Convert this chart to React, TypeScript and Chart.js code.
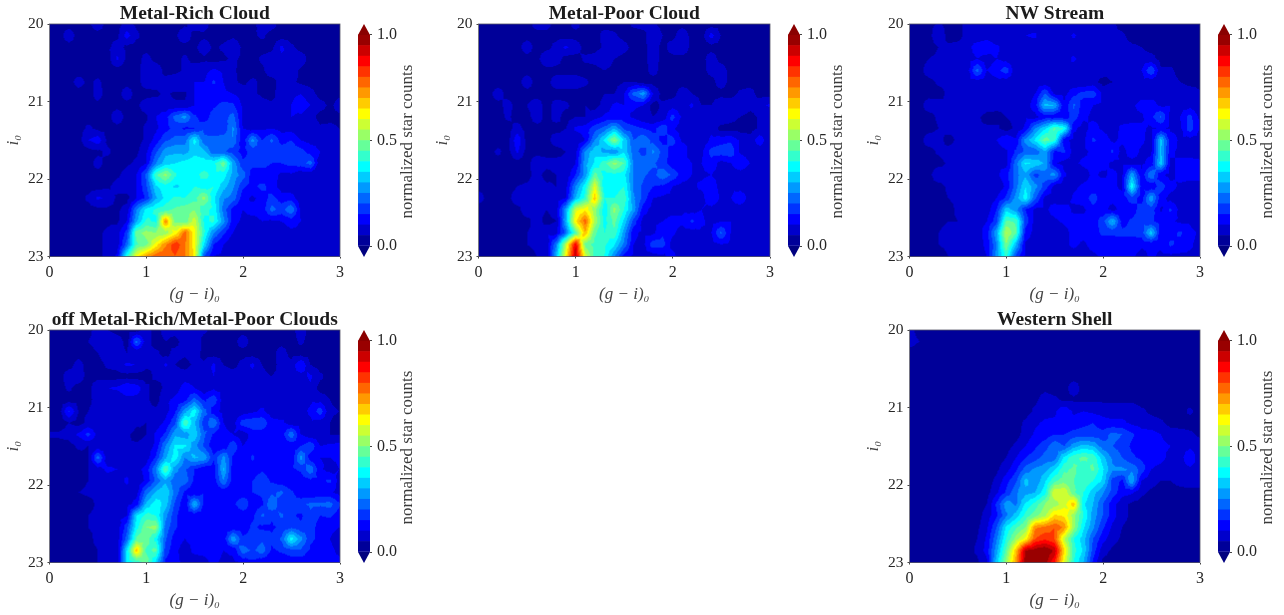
import React, { useEffect, useRef } from "react";
import { Chart, registerables } from "chart.js";

Chart.register(...registerables);

// star counts in percent of the normalised maximum; rows run i0 = 20 → 23 in 0.15 steps, columns (g-i)0 = 0 → 3 in 0.1 steps
const colourValues = [0, 0.1, 0.2, 0.3, 0.4, 0.5, 0.6, 0.7, 0.8, 0.9, 1, 1.1, 1.2, 1.3, 1.4, 1.5, 1.6, 1.7, 1.8, 1.9, 2, 2.1, 2.2, 2.3, 2.4, 2.5, 2.6, 2.7, 2.8, 2.9, 3];
const magValues = [20, 20.15, 20.3, 20.45, 20.6, 20.75, 20.9, 21.05, 21.2, 21.35, 21.5, 21.65, 21.8, 21.95, 22.1, 22.25, 22.4, 22.55, 22.7, 22.85, 23];
const colourTicks = [0, 1, 2, 3];
const magTicks = [20, 21, 22, 23];
const barTicks = [0, 0.5, 1];
const levels = [0, 0.05, 0.1, 0.15, 0.2, 0.25, 0.3, 0.35, 0.4, 0.45, 0.5, 0.55, 0.6, 0.65, 0.7, 0.75, 0.8, 0.85, 0.9, 0.95, 1];

const metalRich = [
  [3,3,3,3,4,8,3,3,7,4,3,3,3,3,4,8,7,3,3,3,3,3,8,7,3,3,3,3,3,3,3],
  [3,3,8,3,3,3,4,4,12,6,3,3,4,4,9,3,4,3,3,4,3,4,6,3,3,3,3,3,3,2,2],
  [2,3,3,3,3,3,4,7,4,3,3,3,3,4,3,4,8,4,6,9,4,3,3,4,11,6,3,3,2,2,2],
  [2,2,3,3,4,3,3,11,4,3,7,3,3,3,6,3,4,3,4,6,4,3,6,7,9,10,8,3,3,3,2],
  [2,3,3,3,3,3,3,3,3,3,8,9,3,3,6,8,8,11,9,6,3,3,4,8,8,8,4,3,3,3,3],
  [2,3,3,7,4,6,3,3,3,3,8,7,7,10,10,10,10,16,10,6,4,6,4,3,7,6,4,3,3,3,3],
  [2,3,3,3,3,7,3,3,8,3,3,4,6,4,4,10,11,10,11,10,8,6,4,3,9,9,10,7,3,3,4],
  [2,2,3,3,3,4,3,3,3,4,8,8,6,6,6,10,11,14,17,16,9,10,7,6,7,10,13,10,7,4,7],
  [2,2,3,3,3,3,3,9,3,3,4,10,13,22,27,16,12,18,18,22,9,9,7,7,10,10,9,7,3,4,4],
  [3,3,3,3,6,4,3,3,3,3,6,9,13,17,14,15,19,18,16,26,10,8,9,10,8,8,6,9,6,6,5],
  [2,3,3,3,10,13,4,3,3,3,6,12,19,22,23,37,21,21,23,25,11,27,15,21,13,15,10,8,9,6,6],
  [2,2,3,3,3,4,6,3,3,4,9,19,28,29,28,33,31,21,21,17,13,17,18,17,18,18,17,13,10,6,7],
  [2,2,3,3,3,7,3,3,4,6,10,25,33,35,37,39,38,39,48,29,16,17,18,15,15,17,18,22,6,7,7],
  [3,3,3,3,3,3,3,4,7,10,21,44,52,41,35,39,41,39,38,28,23,12,10,12,9,9,6,6,5,5,5],
  [2,2,3,3,3,3,4,7,8,10,19,34,38,34,36,40,38,40,32,26,16,13,17,12,8,6,6,6,5,6,6],
  [2,2,3,3,6,11,9,4,3,10,16,29,37,41,40,43,52,36,26,23,12,9,12,17,12,13,6,6,6,6,7],
  [2,2,3,3,3,4,4,4,7,25,37,41,43,46,48,50,41,39,23,13,10,12,12,22,18,25,9,6,7,7,6],
  [2,2,3,3,3,3,4,4,10,29,41,39,74,48,46,58,39,41,27,12,9,8,10,9,10,12,10,10,9,10,6],
  [2,2,3,3,3,4,6,8,17,48,52,50,52,62,78,62,41,25,16,10,6,6,7,6,7,9,9,10,9,9,6],
  [2,3,3,3,3,3,7,7,22,44,48,62,74,84,76,62,35,15,10,6,6,6,7,7,7,7,6,6,7,10,6],
  [3,3,3,4,3,4,6,11,40,62,72,78,80,80,75,64,20,10,9,7,6,6,6,6,6,6,6,6,6,6,6],
];

const metalPoor = [
  [3,3,3,3,3,3,7,7,3,3,7,3,3,3,3,3,6,7,6,3,3,3,3,3,3,3,3,3,3,3,3],
  [2,3,3,3,3,3,3,3,3,3,3,3,3,7,6,3,3,3,10,5,3,9,3,3,12,5,3,3,3,3,3],
  [2,2,3,3,3,8,3,3,7,11,8,3,3,6,10,7,3,3,8,3,8,10,3,3,3,3,3,3,3,3,3],
  [3,3,3,5,3,3,3,10,8,3,3,6,7,10,5,3,3,3,8,3,3,3,3,3,8,3,3,3,3,3,2],
  [2,3,3,3,3,3,3,3,3,3,3,3,3,5,3,3,3,3,7,3,3,3,3,3,7,8,3,3,3,2,2],
  [2,2,2,3,3,8,3,3,8,8,8,6,3,3,3,5,5,3,3,3,3,3,3,3,3,8,3,3,3,3,3],
  [2,3,8,3,3,3,3,3,3,3,3,3,3,5,5,10,22,28,10,3,3,8,5,3,3,3,3,6,7,3,3],
  [2,3,3,7,3,5,8,3,7,6,3,5,3,7,11,10,11,10,3,6,8,7,11,5,5,10,8,10,7,8,11],
  [3,2,3,6,3,3,8,3,7,3,5,5,8,11,11,12,9,6,5,6,17,9,6,6,9,10,7,5,3,6,5],
  [2,2,3,3,7,3,3,5,3,5,11,12,18,22,30,19,17,15,13,19,11,7,9,7,9,3,3,3,3,6,6],
  [2,2,3,3,14,3,3,3,8,7,6,10,25,36,52,34,20,24,18,13,17,9,9,6,11,13,14,9,7,13,6],
  [3,3,6,3,11,3,3,3,3,5,8,26,34,28,26,34,22,18,26,18,13,15,6,9,17,18,19,9,7,7,7],
  [2,3,3,3,3,3,9,7,7,6,10,28,36,43,52,45,24,23,21,17,12,10,10,10,13,8,10,15,10,7,7],
  [2,2,3,3,3,3,7,3,5,6,15,27,47,38,39,37,24,21,18,24,19,13,10,9,10,9,7,7,6,9,7],
  [3,3,3,3,5,6,8,6,5,8,25,38,60,35,37,40,24,19,15,14,10,8,9,11,13,8,9,7,6,9,10],
  [8,3,3,3,9,6,7,7,7,10,30,42,68,40,40,44,26,18,10,9,9,10,9,8,15,9,10,15,7,6,10],
  [2,2,3,3,3,9,7,5,8,28,58,64,52,36,52,40,28,12,8,9,9,9,8,10,8,8,9,6,5,5,6],
  [2,2,3,3,3,3,8,3,5,30,64,78,54,38,47,34,18,8,9,10,11,11,16,11,8,10,10,6,6,7,5],
  [2,2,3,3,3,5,6,9,8,22,45,70,46,40,44,28,11,9,9,14,11,8,8,9,10,21,10,6,7,6,6],
  [2,2,3,3,3,5,6,7,24,56,90,48,43,41,36,24,10,9,18,17,8,6,8,8,8,10,9,6,10,5,6],
  [2,2,3,3,3,3,5,6,30,62,95,58,43,40,26,13,9,8,8,9,12,6,8,6,8,8,8,6,6,6,8],
];

const nwStream = [
  [3,3,3,6,3,3,7,7,7,6,7,7,7,7,7,8,8,6,6,6,8,6,3,3,3,3,3,3,3,3,3],
  [3,3,3,10,3,3,7,6,7,5,8,8,10,11,5,7,7,11,6,7,6,6,6,3,3,3,3,3,3,3,3],
  [3,3,3,5,6,7,8,13,15,11,8,5,7,7,7,7,7,7,6,6,7,8,7,6,5,3,3,3,3,3,3],
  [3,3,5,6,7,10,8,10,7,10,8,6,5,6,8,6,8,11,7,6,7,6,8,7,7,7,3,3,3,3,3],
  [2,3,8,10,6,7,8,22,10,13,18,6,5,7,6,7,10,7,5,7,8,6,8,7,10,20,6,6,3,3,3],
  [2,3,3,6,6,7,8,8,7,8,7,7,8,7,7,6,7,6,5,7,3,5,6,7,8,7,8,7,5,3,3],
  [3,3,3,3,6,7,7,8,7,7,8,8,7,10,20,9,8,14,17,18,9,9,8,6,8,8,9,9,9,9,6],
  [3,3,8,7,5,6,8,10,8,7,6,5,7,13,32,30,11,21,12,10,9,10,9,9,12,12,9,10,8,8,6],
  [2,3,3,6,8,5,6,6,3,3,5,6,9,8,12,11,11,18,11,9,9,9,8,9,9,14,21,9,10,17,9],
  [3,3,3,5,7,6,8,5,6,6,3,6,11,25,34,46,40,11,8,12,9,8,11,11,11,9,11,9,9,18,10],
  [2,3,8,7,3,6,7,7,7,10,15,11,27,36,48,42,12,8,9,16,13,9,11,13,11,8,32,13,9,8,8],
  [3,3,3,6,7,7,8,7,8,7,9,16,21,21,29,14,16,8,9,11,11,16,8,13,9,9,31,11,9,9,8],
  [2,3,3,3,6,8,8,8,7,10,8,23,36,34,29,11,8,9,11,11,12,9,9,8,9,12,33,9,11,11,11],
  [2,2,3,10,6,5,7,8,7,9,13,23,29,18,23,27,11,6,8,11,9,11,9,29,11,25,11,8,12,12,12],
  [2,2,3,3,6,7,7,7,8,6,11,23,35,27,18,8,6,9,11,11,13,11,9,39,13,11,18,12,9,8,8],
  [2,2,3,3,5,6,7,6,7,10,16,27,38,21,9,8,6,11,12,18,11,11,12,18,12,29,12,8,8,8,8],
  [2,2,2,3,3,6,6,7,7,15,33,27,15,9,9,12,13,9,9,13,11,9,11,12,18,18,9,16,8,6,5],
  [2,2,2,3,5,5,7,8,10,18,46,44,18,8,8,9,11,12,12,12,18,31,13,16,18,16,13,11,9,9,6],
  [2,2,2,5,8,8,6,7,13,29,56,46,13,8,6,5,8,12,12,13,16,16,16,16,18,33,12,13,16,12,9],
  [2,2,3,5,6,5,6,8,11,25,50,31,9,8,8,6,9,11,9,12,12,12,13,13,11,11,11,16,13,11,8],
  [3,3,3,3,5,6,7,8,10,27,42,19,9,9,8,8,8,8,8,9,11,12,12,11,8,11,9,9,9,9,9],
];

const offClouds = [
  [2,2,3,3,3,8,5,3,3,3,7,3,7,7,10,6,6,3,3,3,3,3,3,3,3,3,8,3,3,3,3],
  [2,2,3,3,5,7,10,8,3,22,7,3,5,3,8,10,3,3,3,3,8,3,3,3,3,3,6,3,3,3,3],
  [2,2,3,3,3,5,8,8,5,5,6,6,3,7,6,8,3,3,3,3,3,3,3,3,8,3,3,3,3,3,3],
  [2,3,3,7,3,3,6,7,11,10,6,5,11,5,3,6,6,11,5,3,7,11,5,3,7,7,15,5,3,3,3],
  [2,3,8,8,3,3,3,3,3,3,3,6,5,7,8,9,10,10,8,9,8,8,6,5,6,9,8,11,6,3,3],
  [2,3,6,3,3,10,10,11,15,13,6,3,6,8,12,10,6,9,8,6,9,8,6,8,5,6,6,9,3,3,3],
  [2,2,3,3,3,8,7,5,8,8,6,3,9,11,13,22,14,19,7,5,8,8,8,9,6,6,8,9,8,5,3],
  [2,3,16,5,5,8,10,8,7,5,6,6,8,14,28,38,22,12,8,7,7,9,11,7,7,9,8,11,18,6,5],
  [2,2,5,3,6,5,8,10,10,6,5,7,11,19,45,31,17,25,10,8,18,19,19,12,11,8,8,9,8,5,3],
  [6,6,7,11,17,8,6,5,6,3,5,11,16,29,27,34,21,14,11,10,7,12,12,11,12,24,10,7,7,5,5],
  [3,3,3,6,5,7,6,7,5,6,7,11,25,36,36,27,19,11,11,19,10,12,12,12,11,11,15,19,10,11,12],
  [2,2,3,3,5,22,7,8,6,5,7,16,29,38,25,31,29,16,27,14,10,16,11,12,12,11,27,12,10,10,11],
  [2,2,3,3,5,8,11,10,8,8,12,25,46,27,21,15,11,12,31,12,11,12,14,11,12,14,16,24,11,8,10],
  [2,2,3,3,5,8,8,7,11,6,11,21,29,21,23,14,12,12,25,12,14,15,19,14,12,11,12,14,14,16,8],
  [2,2,3,5,6,6,7,7,8,8,23,31,35,23,14,11,14,12,11,11,12,15,16,19,21,16,11,10,12,11,8],
  [3,2,3,3,3,6,7,8,8,12,31,38,33,19,11,31,14,14,15,14,19,12,14,25,16,16,19,21,21,22,16],
  [2,2,3,3,5,6,7,8,10,35,42,40,27,16,12,12,11,11,11,11,12,14,21,16,21,16,14,19,15,16,12],
  [2,2,3,3,5,6,6,7,18,38,50,52,23,16,11,11,11,10,11,12,12,16,14,14,16,19,16,19,11,11,10],
  [2,2,3,3,3,7,6,7,22,46,48,38,21,12,10,11,12,11,12,29,16,16,19,16,21,38,27,16,14,10,8],
  [2,2,2,3,3,5,6,6,35,68,44,46,18,11,8,11,11,12,10,11,23,19,23,14,16,19,19,14,12,11,9],
  [2,2,3,3,3,5,5,6,36,42,48,34,14,11,9,8,9,11,9,9,11,14,11,11,11,11,12,11,11,11,11],
];

const westernShell = [
  [6,4,3,5,4,5,3,3,3,3,3,3,3,3,3,3,3,3,3,3,3,3,2,3,3,3,3,3,2,3,4],
  [6,5,4,3,4,3,3,3,3,3,3,3,3,3,3,3,3,3,3,3,3,3,3,3,3,3,3,3,3,3,3],
  [4,4,3,3,3,3,3,3,3,3,3,3,3,3,3,3,3,3,3,3,3,3,3,3,3,3,3,3,3,3,3],
  [5,3,3,3,3,3,3,3,3,3,3,3,3,3,3,3,3,3,3,3,3,3,3,3,3,3,3,3,3,3,3],
  [3,3,3,3,3,3,3,3,3,3,3,3,3,3,3,3,3,3,3,3,3,3,3,3,3,3,3,3,3,3,3],
  [4,3,3,3,3,3,3,3,3,3,3,3,3,3,4,3,3,8,3,3,3,3,3,3,3,3,3,3,3,3,3],
  [3,3,3,3,3,3,3,3,3,3,3,3,3,4,7,6,4,4,4,4,4,4,4,4,3,3,3,3,3,3,3],
  [3,3,3,3,3,3,3,3,3,3,3,3,3,6,8,9,14,9,10,9,8,8,8,8,6,4,3,3,3,6,3],
  [3,3,3,3,3,3,3,3,3,3,3,3,6,9,11,11,11,12,14,15,12,11,11,9,8,7,6,3,3,3,3],
  [3,3,3,3,3,3,3,3,3,3,3,3,7,11,12,15,15,17,17,17,17,22,20,16,12,12,10,8,7,6,4],
  [3,3,3,3,3,3,3,3,3,3,3,6,10,14,18,24,20,28,32,30,22,20,18,14,12,11,11,10,8,9,8],
  [3,3,3,3,3,3,3,3,3,3,5,10,15,18,22,22,36,44,46,44,32,24,20,16,14,13,12,8,8,14,7],
  [3,3,3,3,3,3,3,3,3,4,8,14,22,26,28,34,44,46,42,46,36,26,26,24,18,10,8,6,9,9,9],
  [3,3,3,3,3,3,3,3,3,6,13,19,32,26,34,44,48,45,44,40,34,18,14,30,10,7,5,5,7,8,8],
  [3,3,3,3,3,3,3,3,3,9,16,24,28,30,38,60,60,46,40,32,26,18,12,11,6,4,3,3,3,3,3],
  [3,3,3,3,3,3,3,3,5,16,28,24,36,42,50,52,58,68,36,30,20,12,7,4,3,3,3,3,3,3,3],
  [3,3,3,3,3,3,3,3,7,14,24,32,42,48,54,66,64,52,40,28,20,12,7,4,3,3,3,3,3,3,3],
  [3,3,3,3,3,3,3,4,9,20,36,44,50,74,76,80,74,52,36,26,16,9,5,3,3,3,3,3,3,3,3],
  [3,3,3,3,3,3,3,5,11,24,40,52,62,80,84,80,56,40,32,20,12,7,4,3,3,3,3,3,3,3,3],
  [3,3,3,3,3,3,3,6,12,28,46,68,95,98,100,94,66,42,34,18,7,4,3,3,3,3,3,3,3,3,3],
  [3,3,3,3,3,3,3,4,9,32,52,72,98,96,98,86,60,40,30,14,4,3,3,3,3,3,3,3,3,3,3],
];

const panelTitles = ["Metal-Rich Cloud", "Metal-Poor Cloud", "NW Stream", "off Metal-Rich/Metal-Poor Clouds", "Western Shell"];
const panelGrids = [metalRich, metalPoor, nwStream, offClouds, westernShell];
const panelLefts = [0, 429, 860, 0, 860];
const panelTops = [0, 0, 0, 306, 306];
const panelWidths = [350, 351, 350, 350, 350];
const barLefts = [358, 788, 1218, 358, 1218];

const serif = "'Liberation Serif', serif";
const textColour = "#262626";

function jet(t: number): [number, number, number] {
  const f = (a: number) => Math.max(0, Math.min(1, 1.5 - Math.abs(4 * t - a)));
  return [Math.round(255 * f(3)), Math.round(255 * f(2)), Math.round(255 * f(1))];
}
const bandColour = (i: number) => jet((i + 0.5) / (levels.length - 1));
const css = (c: number[]) => `rgb(${c[0]},${c[1]},${c[2]})`;

const contourPlugin = {
  id: "contourBands",
  beforeDatasetsDraw(chart: any) {
    const { chartArea: a, scales: { x, y } } = chart;
    const pts = chart.data.datasets[0].data as { x: number; y: number; v: number }[];
    const nx = colourValues.length, ny = magValues.length;
    const at = (c: number, r: number) => pts[r * nx + c].v;
    const w = Math.ceil(a.width), h = Math.ceil(a.height);
    const off = document.createElement("canvas");
    off.width = w; off.height = h;
    const octx = off.getContext("2d")!;
    const img = octx.createImageData(w, h);
    const cStep = colourValues[1] - colourValues[0], rStep = magValues[1] - magValues[0];
    for (let py = 0; py < h; py++) {
      const my = y.getValueForPixel(a.top + py + 0.5);
      const rf = Math.max(0, Math.min(ny - 1.0001, (my - magValues[0]) / rStep));
      const r0 = Math.floor(rf), fy = rf - r0;
      for (let px = 0; px < w; px++) {
        const mx = x.getValueForPixel(a.left + px + 0.5);
        const cf = Math.max(0, Math.min(nx - 1.0001, (mx - colourValues[0]) / cStep));
        const c0 = Math.floor(cf), fx = cf - c0;
        const v00 = at(c0, r0), v10 = at(c0 + 1, r0), v01 = at(c0, r0 + 1), v11 = at(c0 + 1, r0 + 1);
        const cv = (v00 + v10 + v01 + v11) / 4;
        let v: number;
        if (fy <= fx && fy <= 1 - fx) v = v00 * (1 - fx - fy) + v10 * (fx - fy) + cv * 2 * fy;
        else if (fx >= fy && fx >= 1 - fy) v = v10 * (fx - fy) + v11 * (fx + fy - 1) + cv * 2 * (1 - fx);
        else if (fy >= fx && fy >= 1 - fx) v = v01 * (fy - fx) + v11 * (fx + fy - 1) + cv * 2 * (1 - fy);
        else v = v00 * (1 - fx - fy) + v01 * (fy - fx) + cv * 2 * fx;
        let b = 0;
        while (b < levels.length - 2 && v >= levels[b + 1]) b++;
        const col = bandColour(b);
        const k = (py * w + px) * 4;
        img.data[k] = col[0]; img.data[k + 1] = col[1]; img.data[k + 2] = col[2]; img.data[k + 3] = 255;
      }
    }
    octx.putImageData(img, 0, 0);
    chart.ctx.drawImage(off, a.left, a.top, a.width, a.height);
  },
  afterDatasetsDraw(chart: any) {
    const { ctx, chartArea: a } = chart;
    ctx.save();
    ctx.strokeStyle = "#555566";
    ctx.lineWidth = 0.8;
    ctx.strokeRect(a.left, a.top, a.width, a.height);
    ctx.restore();
  },
};

const colourbarPlugin = {
  id: "colourbarExtras",
  afterDatasetsDraw(chart: any) {
    const { ctx, chartArea: a, scales: { y } } = chart;
    const mid = (a.left + a.right) / 2;
    const tri = (from: number, tip: number, fill: string) => {
      ctx.fillStyle = fill;
      ctx.beginPath();
      ctx.moveTo(a.left, from);
      ctx.lineTo(mid, tip);
      ctx.lineTo(a.right, from);
      ctx.closePath();
      ctx.fill();
    };
    tri(y.getPixelForValue(1), a.top, css(jet(0.99)));
    tri(y.getPixelForValue(0), a.bottom, css(jet(0.0)));
    ctx.save();
    ctx.translate(a.right + 38, (a.top + a.bottom) / 2 + 1);
    ctx.rotate(-Math.PI / 2);
    ctx.font = `17px ${serif}`;
    ctx.fillStyle = "#3a3a3a";
    ctx.textAlign = "center";
    ctx.textBaseline = "middle";
    ctx.fillText("normalized star counts", 0, 0);
    ctx.restore();
  },
};

function Panel({ index }: { index: number }) {
  const mainRef = useRef<HTMLCanvasElement>(null);
  const barRef = useRef<HTMLCanvasElement>(null);
  useEffect(() => {
    const grid = panelGrids[index];
    const points: { x: number; y: number; v: number }[] = [];
    magValues.forEach((m, r) => colourValues.forEach((c, i) => points.push({ x: c, y: m, v: grid[r][i] / 100 })));
    const main = new Chart(mainRef.current!, {
      type: "scatter",
      data: { datasets: [{ label: panelTitles[index], data: points, pointRadius: 0 }] },
      plugins: [contourPlugin],
      options: {
        animation: false,
        responsive: false,
        devicePixelRatio: 1,
        layout: { padding: { left: 0, right: 10, top: 0, bottom: 0 } },
        plugins: {
          legend: { display: false },
          tooltip: { enabled: false },
          title: {
            display: true,
            text: panelTitles[index],
            fullSize: false,
            color: "#1c1c1c",
            font: { family: serif, size: 19.5, weight: "bold", lineHeight: 1 },
            padding: { top: 4, bottom: 0.5 },
          },
        },
        scales: {
          x: {
            type: "linear", min: 0, max: 3,
            afterBuildTicks: (s: any) => { s.ticks = colourTicks.map((value) => ({ value })); },
            afterFit: (s: any) => { s.height = 48.5; },
            grid: { display: true, drawOnChartArea: false, drawTicks: true, tickLength: 2, color: "#444" },
            border: { display: false },
            ticks: { color: textColour, font: { family: serif, size: 16 }, padding: 5, maxRotation: 0, callback: (v: any) => String(v) },
            title: { display: true, text: "(g − i)₀", color: "#444", font: { family: serif, size: 17, style: "italic" }, padding: { top: 1, bottom: 0 } },
          },
          y: {
            type: "linear", min: 20, max: 23, reverse: true,
            afterBuildTicks: (s: any) => { s.ticks = magTicks.map((value) => ({ value })); },
            afterFit: (s: any) => { s.width = 49.5; },
            grid: { display: true, drawOnChartArea: false, drawTicks: true, tickLength: 2, color: "#444" },
            border: { display: false },
            ticks: { color: textColour, font: { family: serif, size: 15.5 }, padding: 4, callback: (v: any) => String(v) },
            title: { display: true, text: "i₀", color: "#444", font: { family: serif, size: 17, style: "italic" }, padding: { top: 3, bottom: 0 } },
          },
        },
      },
    } as any);
    const bands = levels.slice(0, -1).map((lo, i) => ({
      label: `${lo}`,
      data: [[lo, levels[i + 1]]],
      backgroundColor: css(bandColour(i)),
      borderWidth: 0,
      categoryPercentage: 1,
      barPercentage: 1,
      grouped: false,
    }));
    const bar = new Chart(barRef.current!, {
      type: "bar",
      data: { labels: ["normalized star counts"], datasets: bands },
      plugins: [colourbarPlugin],
      options: {
        animation: false,
        responsive: false,
        devicePixelRatio: 1,
        layout: { padding: 0 },
        plugins: { legend: { display: false }, tooltip: { enabled: false }, title: { display: false } },
        scales: {
          x: { display: false, stacked: false },
          y: {
            position: "right", min: -0.052, max: 1.052,
            afterBuildTicks: (s: any) => { s.ticks = barTicks.map((value) => ({ value })); },
            afterFit: (s: any) => { s.width = 50; s.paddingTop = 0; s.paddingBottom = 0; },
            grid: { display: true, drawOnChartArea: false, drawTicks: true, tickLength: 2, color: "#444" },
            border: { display: false },
            ticks: { color: textColour, font: { family: serif, size: 16 }, padding: 5, callback: (v: any) => Number(v).toFixed(1) },
          },
        },
      },
    } as any);
    return () => { main.destroy(); bar.destroy(); };
  }, [index]);
  const left = panelLefts[index], top = panelTops[index], w = panelWidths[index];
  return (
    <>
      <canvas ref={mainRef} width={w} height={305} style={{ position: "absolute", left, top, width: w, height: 305 }} />
      <canvas ref={barRef} width={62} height={233} style={{ position: "absolute", left: barLefts[index], top: top + 24, width: 62, height: 233 }} />
    </>
  );
}

export default function App() {
  return (
    <div style={{ position: "fixed", left: 0, top: 0, width: 1284, height: 615, background: "#fff", overflow: "hidden", filter: "blur(0.7px)" }}>
      {panelTitles.map((_, i) => <Panel key={i} index={i} />)}
    </div>
  );
}
